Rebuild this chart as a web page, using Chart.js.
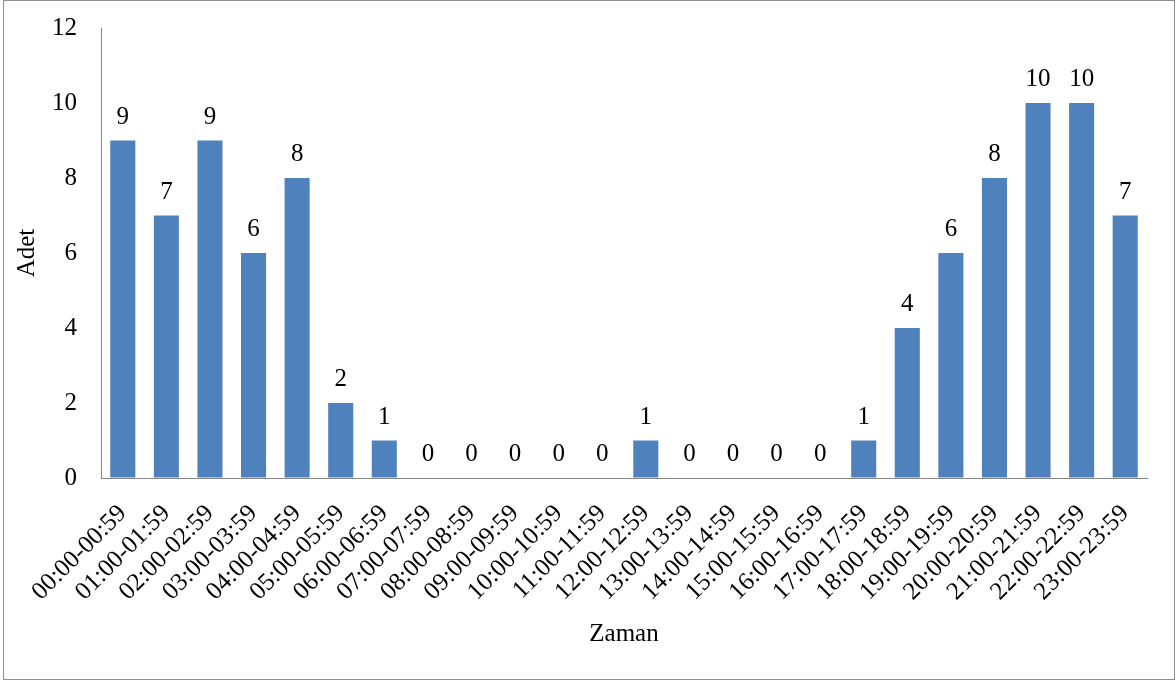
<!DOCTYPE html>
<html>
<head>
<meta charset="utf-8">
<script src="https://cdn.jsdelivr.net/npm/chart.js@4.4.1/dist/chart.umd.min.js"></script>
<style>
  html, body { margin: 0; padding: 0; background: #ffffff; }
  #wrap { position: relative; width: 1176px; height: 684px; }
</style>
</head>
<body>
<div id="wrap"><canvas id="c" width="1176" height="684"></canvas></div>
<script>
const categories = [
  "00:00-00:59","01:00-01:59","02:00-02:59","03:00-03:59","04:00-04:59","05:00-05:59",
  "06:00-06:59","07:00-07:59","08:00-08:59","09:00-09:59","10:00-10:59","11:00-11:59",
  "12:00-12:59","13:00-13:59","14:00-14:59","15:00-15:59","16:00-16:59","17:00-17:59",
  "18:00-18:59","19:00-19:59","20:00-20:59","21:00-21:59","22:00-22:59","23:00-23:59"
];
const counts = [9, 7, 9, 6, 8, 2, 1, 0, 0, 0, 0, 0, 1, 0, 0, 0, 0, 1, 4, 6, 8, 10, 10, 7];
const yTicks = [0, 2, 4, 6, 8, 10, 12];
const xTitle = "Zaman";
const yTitle = "Adet";

const FONT = "'Liberation Serif', 'Times New Roman', serif";
const AXIS = "#868686";

const frame = {
  id: 'frame',
  beforeDraw(chart) {
    const ctx = chart.ctx;
    ctx.save();
    ctx.fillStyle = '#ffffff';
    ctx.fillRect(0, 0, chart.width, chart.height);
    ctx.strokeStyle = '#8e8e8e';
    ctx.lineWidth = 1;
    ctx.strokeRect(3.5, 0.5, 1171, 679);
    ctx.restore();
  }
};

const valueLabels = {
  id: 'valueLabels',
  afterDatasetsDraw(chart) {
    const ctx = chart.ctx;
    const meta = chart.getDatasetMeta(0);
    ctx.save();
    ctx.font = "25px " + FONT;
    ctx.fillStyle = '#000000';
    ctx.textAlign = 'center';
    ctx.textBaseline = 'alphabetic';
    meta.data.forEach((bar, i) => {
      ctx.fillText(String(counts[i]), bar.x, bar.y - 17);
    });
    ctx.restore();
  }
};

new Chart(document.getElementById('c'), {
  type: 'bar',
  data: {
    labels: categories,
    datasets: [{
      data: counts,
      backgroundColor: '#4F81BD',
      borderWidth: 0,
      barPercentage: 0.575,
      categoryPercentage: 1.0
    }]
  },
  options: {
    responsive: false,
    animation: false,
    devicePixelRatio: 1,
    layout: { padding: { top: 28, right: 29, left: 0, bottom: 0 } },
    plugins: { legend: { display: false }, tooltip: { enabled: false } },
    scales: {
      x: {
        grid: { display: true, drawOnChartArea: false, drawTicks: false },
        border: { display: true, color: AXIS, width: 1 },
        ticks: {
          autoSkip: false, minRotation: 45, maxRotation: 45,
          color: '#000000', padding: 21,
          font: { family: FONT, size: 25 }
        },
        title: {
          display: true, text: xTitle, color: '#000000',
          font: { family: FONT, size: 25 },
          padding: { top: 0, bottom: 35 }
        },
        afterFit(scale) { scale.height = 206; scale.paddingLeft = 0; scale.paddingRight = 0; }
      },
      y: {
        min: 0, max: 12,
        grid: { display: true, drawOnChartArea: false, drawTicks: false },
        border: { display: true, color: AXIS, width: 1 },
        afterBuildTicks(scale) { scale.ticks = yTicks.map(v => ({ value: v })); },
        ticks: {
          color: '#000000', padding: 24,
          font: { family: FONT, size: 25 }
        },
        title: {
          display: true, text: yTitle, color: '#000000',
          font: { family: FONT, size: 25 },
          padding: { top: 12, bottom: 0 }
        },
        afterFit(scale) { scale.width = 101; scale.paddingTop = 0; scale.paddingBottom = 0; }
      }
    }
  },
  plugins: [frame, valueLabels]
});
</script>
</body>
</html>
